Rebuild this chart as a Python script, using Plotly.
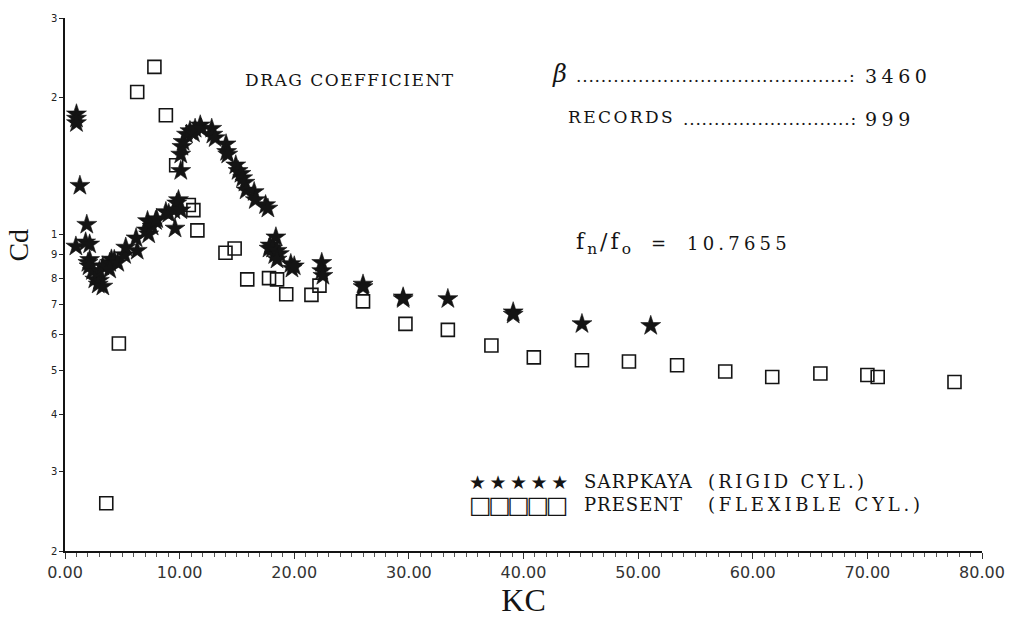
import plotly.graph_objects as go
import math

# ---------------- data ----------------
kc_sarpkaya = [1.0, 1.0, 1.0, 1.3, 1.9, 0.95, 1.8, 2.15, 2.15, 2.0, 2.1, 2.4, 2.6, 3.0, 2.9, 3.3,
               3.0, 3.3, 3.9, 4.05, 4.3, 3.9, 4.6, 5.2, 5.3, 6.2, 6.3, 7.1, 7.2, 7.3, 7.6, 7.9,
               8.0, 8.8, 9.05, 9.5, 9.75, 9.9, 10.1, 9.6,
               10.1, 10.1, 10.2, 10.3, 10.6, 10.9, 11.2, 11.35, 11.8, 11.9, 12.8, 12.9, 13.1,
               14.05, 14.1, 14.2, 14.9, 15.1, 15.35, 15.5, 15.7, 15.8, 16.5, 16.6, 17.5, 17.7,
               18.4, 17.8, 17.9, 18.1, 18.3, 18.5, 18.7, 18.5, 19.7, 19.8, 20.0,
               22.4, 22.4, 22.5, 26.0, 26.0, 29.5, 29.5, 33.4, 39.1, 39.1, 45.1, 51.1]
cd_sarpkaya = [1.84, 1.80, 1.76, 1.28, 1.05, 0.94, 0.96, 0.95, 0.878, 0.865, 0.85, 0.83, 0.795, 0.79, 0.775, 0.767,
               0.83, 0.85, 0.865, 0.88, 0.878, 0.836, 0.865, 0.90, 0.935, 0.98, 0.92, 1.02, 1.07, 1.0, 1.04, 1.07,
               1.08, 1.12, 1.11, 1.13, 1.17, 1.19, 1.13, 1.03,
               1.38, 1.50, 1.56, 1.60, 1.66, 1.69, 1.67, 1.71, 1.74, 1.71, 1.71, 1.66, 1.63,
               1.58, 1.52, 1.50, 1.42, 1.38, 1.36, 1.33, 1.30, 1.25, 1.24, 1.19, 1.16, 1.14,
               0.985, 0.93, 0.945, 0.93, 0.90, 0.92, 0.905, 0.88, 0.86, 0.84, 0.85,
               0.865, 0.83, 0.81, 0.775, 0.765, 0.726, 0.72, 0.72, 0.673, 0.665, 0.634, 0.628]

kc_present = [3.6, 4.7, 6.3, 7.8, 8.8, 9.7, 10.8, 11.2, 11.55, 14.0, 14.8, 15.9, 17.8, 18.5,
              19.3, 21.5, 22.2, 26.0, 29.7, 33.4, 37.2, 40.9, 45.1, 49.2, 53.4, 57.6, 61.7,
              65.9, 70.0, 70.9, 77.6]
cd_present = [0.255, 0.574, 2.06, 2.34, 1.83, 1.42, 1.16, 1.13, 1.02, 0.91, 0.93, 0.795, 0.80, 0.795,
              0.737, 0.735, 0.77, 0.711, 0.634, 0.615, 0.568, 0.535, 0.527, 0.524, 0.514, 0.498, 0.484,
              0.493, 0.489, 0.484, 0.472]

y_tickvals = [0.2, 0.3, 0.4, 0.5, 0.6, 0.7, 0.8, 0.9, 1.0, 2.0, 3.0]
y_ticktext = ["2", "3", "4", "5", "6", "7", "8", "9", "1", "2", "3"]
x_tickvals = [0, 10, 20, 30, 40, 50, 60, 70, 80]
x_ticktext = ["0.00", "10.00", "20.00", "30.00", "40.00", "50.00", "60.00", "70.00", "80.00"]

title_text = "DRAG COEFFICIENT"
beta_value = "3460"
records_label = "RECORDS"
records_value = "999"
freq_ratio = "10.7655"
legend_sarp = "SARPKAYA"
legend_sarp2 = "(RIGID CYL.)"
legend_pres = "PRESENT"
legend_pres2 = "(FLEXIBLE CYL.)"

# ---------------- layout geometry ----------------
W, H = 1017, 620
L, R, T, B = 65, 24, 15, 65
PW, PH = W - L - R, H - T - B


def px(x):
    return (x - L) / PW


def py(y):
    return (H - B - y) / PH


SERIF = "DejaVu Serif"
TIMES = "Liberation Serif"
SANS = "DejaVu Sans"
INK = "#141414"

fig = go.Figure()
fig.add_trace(go.Scatter(
    x=kc_sarpkaya, y=cd_sarpkaya, mode="markers", name="SARPKAYA",
    marker=dict(symbol="star", size=15, color=INK, line=dict(width=0.6, color=INK)),
    showlegend=False))
fig.add_trace(go.Scatter(
    x=kc_present, y=cd_present, mode="markers", name="PRESENT",
    marker=dict(symbol="square-open", size=13, color=INK, line=dict(width=1.6, color=INK)),
    showlegend=False))

ann = []


def text(x, y, s, size, xanchor="left", family=SERIF, angle=0, spacing=0):
    if spacing:
        s = '<span style="letter-spacing:%spx">%s</span>' % (spacing, s)
    ann.append(dict(x=px(x), y=py(y), xref="paper", yref="paper", text=s, showarrow=False,
                    xanchor=xanchor, yanchor="middle", textangle=angle,
                    font=dict(family=family, size=size, color=INK)))


text(245, 78, title_text, 17, spacing=1.5)
text(556, 72, "<i>β</i>", 24)
text(580, 74, "." * 44 + ":", 17, spacing=0.8)
text(873, 74, beta_value, 19, spacing=4.5)
text(572, 115, records_label, 17, spacing=2.4)
text(688, 117, "." * 27 + ":", 17, spacing=0.8)
text(873, 117, records_value, 19, spacing=4.5)
text(580, 243, "f<sub>n</sub>/f<sub>o</sub>", 22, spacing=3)
text(656, 243, "=", 18)
text(692, 243, freq_ratio, 18, spacing=4.2)
text(472, 485, "★★★★★", 19, family=SANS, spacing=3.5)
text(588, 485, legend_sarp, 18, spacing=1.2)
text(714, 485, legend_sarp2, 18, spacing=3.3)
text(472, 508, "□□□□□", 24, family=SANS, spacing=-3.5)
text(588, 508, legend_pres, 18, spacing=1)
text(714, 508, legend_pres2, 18, spacing=3.8)
text(17, 245, "Cd", 28, xanchor="center", family=TIMES, angle=-90)

fig.update_layout(
    width=W, height=H,
    margin=dict(l=L, r=R, t=T, b=B),
    paper_bgcolor="white", plot_bgcolor="white",
    annotations=ann,
    xaxis=dict(range=[0, 80], tickvals=x_tickvals, ticktext=x_ticktext,
               showgrid=False, zeroline=False, showline=True, linecolor=INK, linewidth=1.5,
               ticks="outside", ticklen=6, tickwidth=1.2, tickcolor="#333333",
               minor=dict(dtick=1, ticks="outside", ticklen=4, tickwidth=1, tickcolor="#555555"),
               tickfont=dict(family=SANS, size=16, color="#333333"),
               title=dict(text="KC", font=dict(family=TIMES, size=32, color=INK), standoff=4)),
    yaxis=dict(type="log", range=[math.log10(0.2), math.log10(3)],
               tickvals=y_tickvals, ticktext=y_ticktext,
               showgrid=False, zeroline=False, showline=True, linecolor=INK, linewidth=1.5,
               ticks="outside", ticklen=4, tickwidth=1.2, tickcolor="#222222",
               tickfont=dict(family=SANS, size=10, color="#222222")),
)

fig.write_html("out.html")
